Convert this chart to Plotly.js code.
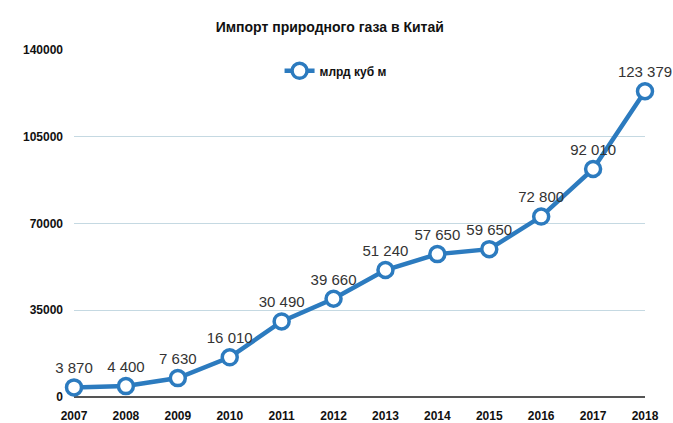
<!DOCTYPE html>
<html>
<head>
<meta charset="utf-8">
<script src="https://cdn.plot.ly/plotly-3.0.1.min.js"></script>
<style>html,body{margin:0;padding:0;background:#fff;}#chart{width:673px;height:423px;}</style>
</head>
<body>
<div id="chart"></div>
<script>
const years = ['2007','2008','2009','2010','2011','2012','2013','2014','2015','2016','2017','2018'];
const imports = [3870, 4400, 7630, 16010, 30490, 39660, 51240, 57650, 59650, 72800, 92010, 123379];
const labels = ['3 870','4 400','7 630','16 010','30 490','39 660','51 240','57 650','59 650','72 800','92 010','123 379'];
const yTicks = [0, 35000, 70000, 105000, 140000];
const seriesName = 'млрд куб м';
const chartTitle = 'Импорт природного газа в Китай';

const narrow = 'Liberation Sans Narrow, Arial Narrow, Liberation Sans, Arial, sans-serif';
const blue = '#2c7bbf';

const trace = {
  x: years,
  y: imports,
  type: 'scatter',
  mode: 'lines+markers+text',
  name: seriesName,
  text: labels,
  textposition: 'top center',
  textfont: {family: 'Liberation Sans, Arial, sans-serif', size: 15, color: '#333'},
  line: {color: blue, width: 4.5},
  marker: {symbol: 'circle', size: 15, color: '#fff', line: {color: blue, width: 3.5}},
  cliponaxis: false
};

const layout = {
  width: 673, height: 423,
  margin: {l: 74, r: 28, t: 50, b: 26},
  paper_bgcolor: '#fff', plot_bgcolor: '#fff',
  title: {text: '<b>' + chartTitle + '</b>', x: 0.49, xanchor: 'center', y: 0.936, yanchor: 'middle',
          font: {family: narrow, size: 14, color: '#111'}},
  showlegend: true,
  legend: {x: 0.36, xanchor: 'left', y: 0.94, yanchor: 'middle', orientation: 'h',
           font: {family: narrow, size: 12, color: '#111', weight: 'bold'}, bgcolor: 'rgba(0,0,0,0)'},
  xaxis: {type: 'category', range: [0, 11], showgrid: false, zeroline: false,
          showline: false, ticks: '', ticklabelstandoff: 10,
          tickfont: {family: narrow, size: 12, color: '#111', weight: 'bold'}},
  yaxis: {range: [0, 140000], tickvals: yTicks, ticktext: yTicks.map(String),
          showgrid: true, gridcolor: '#c5d9e2', gridwidth: 1, zeroline: true, zerolinecolor: '#555', zerolinewidth: 2,
          showline: false, ticks: '', ticklabelstandoff: 10,
          tickfont: {family: narrow, size: 12, color: '#111', weight: 'bold'}}
};

Plotly.newPlot('chart', [trace], layout, {displayModeBar: false, staticPlot: true});
</script>
</body>
</html>
